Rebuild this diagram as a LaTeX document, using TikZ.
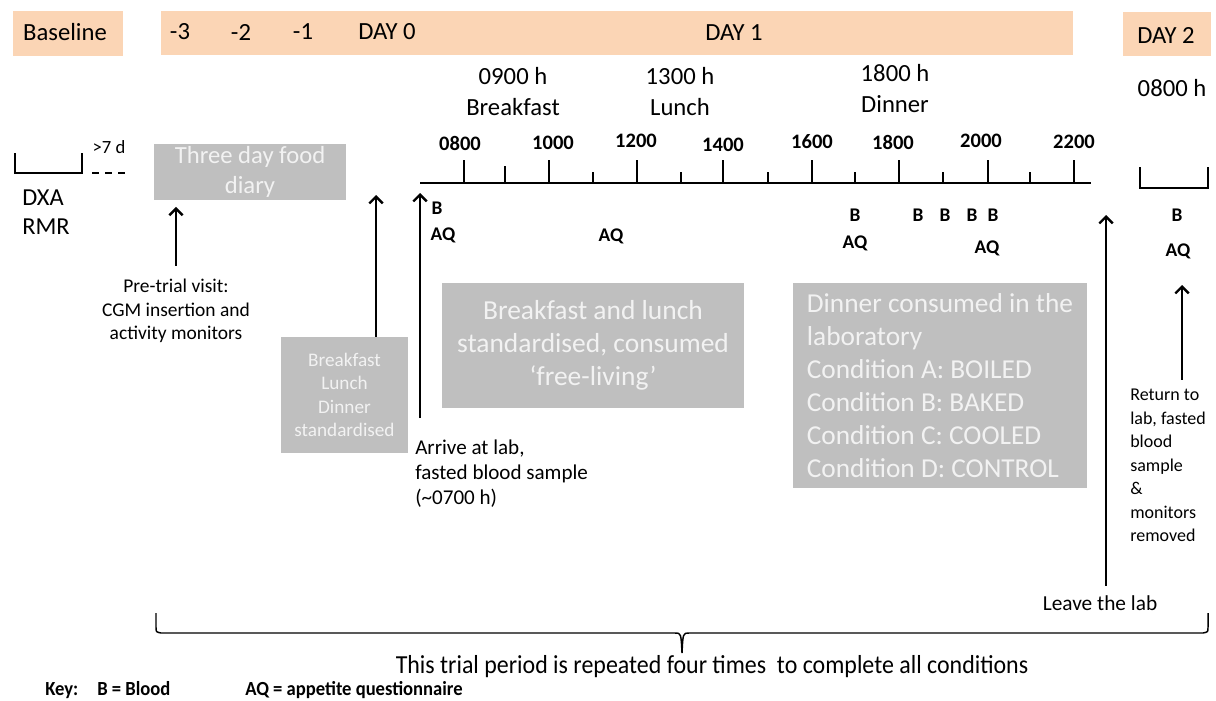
\documentclass[tikz,border=0pt]{standalone}
\usepackage{fontspec}
\setmainfont{Carlito}
\newfontfamily\narrowfont[FakeStretch=0.92]{Carlito}
\newfontfamily\keyfont[FakeStretch=0.93]{Carlito}
\usetikzlibrary{arrows.meta}

\definecolor{daybar}{HTML}{FBD5B5}
\definecolor{boxgray}{HTML}{BFBFBF}
\definecolor{boxtext}{HTML}{F2F2F2}
\newcommand{\setfs}[2]{\fontsize{#1pt}{#2pt}\selectfont}
\frenchspacing

\begin{document}
\begin{tikzpicture}[x=0.75pt, y=-0.75pt,
    note/.style={inner sep=0, text=black},
    daylabel/.style={note, font=\setfs{18.5}{23.25}},
    graybox/.style={fill=boxgray, text=boxtext, inner sep=0, align=center},
    timeline/.style={line width=2pt},
    uparrow/.style={line width=2.1pt, -{Straight Barb[length=5pt, width=10pt, line width=1.8pt]}},
    ticklabel/.style={note, font=\setfs{15.4}{18}\bfseries},
    samplelabel/.style={note, font=\setfs{14.5}{17}\bfseries},
    keylabel/.style={note, anchor=base west, font=\keyfont\setfs{15}{18}\bfseries}]

        \useasboundingbox (0,0) rectangle (1216,700);

        %Day bars
        \fill [daybar] (13,11) rectangle (123,56);
        \fill [daybar] (161,11) rectangle (1073,55);
        \fill [daybar] (1123,12) rectangle (1211,56);
        \node [daylabel] (baseline) at (65,32) {Baseline};
        \node [daylabel] (dminus3) at (180,32) {-3};
        \node [daylabel] (dminus2) at (241,32) {-2};
        \node [daylabel] (dminus1) at (303,32) {-1};
        \node [daylabel] (day0) at (387,32) {DAY 0};
        \node [daylabel] (day1) at (734,33) {DAY 1};
        \node [daylabel] (day2) at (1166,35) {DAY 2};

        %Meal times
        \node [daylabel, align=center] (breakfast) at (513,92) {0900 h\\Breakfast};
        \node [daylabel, align=center] (lunch) at (680,92) {1300 h\\Lunch};
        \node [daylabel, align=center] (dinnertime) at (895,89) {1800 h\\Dinner};
        \node [daylabel] (returntime) at (1172,88) {0800 h};

        %Baseline visit
        \draw [line width=2pt] (15,153) |- (82,173) -- (82,153);
        \draw [line width=1.2pt, dash pattern=on 5.25pt off 4.5pt] (92,173) -- (126,173);
        \node [note, font=\setfs{14}{17}] (gap) at (109,147) {>7 d};
        \node [note, anchor=west, align=left, font=\setfs{18.3}{21.75}] (dxa) at (22,212) {DXA\\RMR};

        %Timeline
        \draw [timeline] (420,183) -- (1091,183);
        \coordinate (tlstart) at (420,183);
        \draw [timeline] (464,183) -- (464,160);
        \draw [timeline] (505,183) -- (505,166);
        \draw [timeline] (549,183) -- (549,160);
        \draw [timeline] (593,183) -- (593,172);
        \draw [timeline] (637,183) -- (637,160);
        \draw [timeline] (681,183) -- (681,172);
        \draw [timeline] (723,183) -- (723,160);
        \draw [timeline] (768,183) -- (768,172);
        \draw [timeline] (812,183) -- (812,160);
        \draw [timeline] (855,183) -- (855,172);
        \draw [timeline] (899,183) -- (899,160);
        \draw [timeline] (943,183) -- (943,172);
        \draw [timeline] (988,183) -- (988,160);
        \draw [timeline] (1030,183) -- (1030,172);
        \draw [timeline] (1074,183) -- (1074,160);
        \node [ticklabel] (t0800) at (460,143) {0800};
        \node [ticklabel] (t1000) at (553,143) {1000};
        \node [ticklabel] (t1200) at (636,141) {1200};
        \node [ticklabel] (t1400) at (723,145) {1400};
        \node [ticklabel] (t1600) at (812,142) {1600};
        \node [ticklabel] (t1800) at (893,142) {1800};
        \node [ticklabel] (t2000) at (981,141) {2000};
        \node [ticklabel] (t2200) at (1074,142) {2200};

        %Day 2 visit
        \draw [line width=2pt] (1140,167) |- (1208,188) -- (1208,167);

        %Blood and questionnaire samples
        \node [samplelabel] (b0) at (437,208) {B};
        \node [samplelabel] (aq0) at (443,235) {AQ};
        \node [samplelabel] (aq1) at (611,236) {AQ};
        \node [samplelabel] (b1) at (855,215) {B};
        \node [samplelabel] (aq2) at (855,243) {AQ};
        \node [samplelabel] (b2) at (918,215) {B};
        \node [samplelabel] (b3) at (945,215) {B};
        \node [samplelabel] (b4) at (972,215) {B};
        \node [samplelabel] (b5) at (993,215) {B};
        \node [samplelabel] (aq3) at (987,248) {AQ};
        \node [samplelabel] (b6) at (1177,215) {B};
        \node [samplelabel] (aq4) at (1178,251) {AQ};

        %Grey boxes
        \node [graybox, minimum width=144pt, minimum height=42pt, font=\setfs{18.5}{22.5}] (diary) at (250,172) {Three day food\\diary};
        \node [graybox, minimum width=95.25pt, minimum height=87pt, font=\setfs{14.4}{17.6}] (stdmeals) at (344.5,395) {Breakfast\\Lunch\\Dinner\\standardised};
        \node [graybox, minimum width=226.5pt, minimum height=93.75pt, font=\setfs{20.6}{24.75}] (freeliving) at (593,345.5) {Breakfast and lunch\\standardised, consumed\\‘free-living’};
        \node [graybox, minimum width=220.5pt, minimum height=153.75pt, align=left, font=\setfs{20.5}{24.75}] (dinner) at (940,385.5) {Dinner consumed in the\\laboratory\\Condition A: BOILED\\Condition B: BAKED\\Condition C: COOLED\\Condition D: CONTROL};

        %Events
        \node [note, anchor=north, align=center, font=\setfs{14.6}{17.6}] (pretrial) at (176,279) {Pre-trial visit:\\CGM insertion and\\activity monitors};
        \draw [uparrow, shorten >=5pt] ([yshift=10pt]pretrial.north) -- (pretrial |- diary.south);

        \coordinate (stdtip) at (376,195);
        \draw [uparrow] (stdtip |- stdmeals.north) -- (stdtip);

        \node [note, anchor=north west, align=left, font=\setfs{15.8}{18.75}] (arrive) at (415,440) {Arrive at lab,\\fasted blood sample\\(\textasciitilde0700 h)};
        \coordinate (arrivefoot) at (420,418);
        \draw [uparrow, shorten >=7.5pt] (arrivefoot) -- (tlstart);

        \node [note, font=\setfs{16}{19}] (leave) at (1100,603) {Leave the lab};
        \coordinate (leavetip) at (1106,215);
        \draw [uparrow] ([yshift=7pt]leave.north -| leavetip) -- (leavetip);

        \node [note, anchor=north west, align=left, font=\setfs{13.5}{17.6}] (return) at (1130,389) {Return to\\lab, fasted\\blood\\sample\\\&\\monitors\\removed};
        \coordinate (returntip) at (1182,285);
        \draw [uparrow] ([yshift=7pt]return.north -| returntip) -- (returntip);

        %Trial period brace
        \draw [line width=1.1pt] (156,613) -- (156,627) .. controls (156,632) .. (161,633) -- (675,633) .. controls (681,633) .. (682,653) .. controls (683,633) .. (689,633) -- (1203,633) .. controls (1208,632) .. (1208,627) -- (1208,613);
        \node [note, font=\narrowfont\setfs{19.5}{23}] (repeat) at (712,667) {This trial period is repeated four times\ \ to complete all conditions};

        %Key
        \node [keylabel] (key) at (45,695) {Key:};
        \node [keylabel] (keyb) at (97,695) {B = Blood};
        \node [keylabel] (keyaq) at (245,695) {AQ = appetite questionnaire};

\end{tikzpicture}
\end{document}
